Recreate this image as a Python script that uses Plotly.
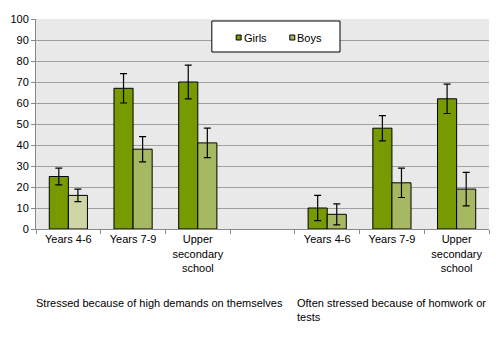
import plotly.graph_objects as go

# Category slots: two groups of school stages separated by an empty slot
tick_labels = ["Years 4-6", "Years 7-9", "Upper<br>secondary<br>school", "",
               "Years 4-6", "Years 7-9", "Upper<br>secondary<br>school"]
positions = [0, 1, 2, 3, 4, 5, 6]

girls = [25, 67, 70, None, 10, 48, 62]
girls_err = [4, 7, 8, None, 6, 6, 7]
boys = [16, 38, 41, None, 7, 22, 19]
boys_err = [3, 6, 7, None, 5, 7, 8]

series_names = ["Girls", "Boys"]
group_titles = ["Stressed because of high demands on themselves",
                "Often stressed because of homwork or<br>tests"]

GIRLS_COLOR = "#779a00"
BOYS_COLOR = "#a6b862"
BOYS_LIGHT = "#cfd6a6"
FONT = "Liberation Sans, Arial, sans-serif"

# plot area in pixels
W, H = 499, 341
L, R, T, B = 33, 10, 19, 112
pw, ph = W - L - R, H - T - B


def px_x(x):
    return (x - L) / pw


def px_y(y):
    return (H - B - y) / ph


err_style = dict(type="data", color="black", thickness=1.2, width=3.5, visible=True)

fig = go.Figure()
fig.add_trace(go.Bar(
    x=positions, y=girls, name=series_names[0], showlegend=False,
    marker=dict(color=GIRLS_COLOR, line=dict(color="black", width=1)),
    error_y=dict(array=girls_err, **err_style),
))
fig.add_trace(go.Bar(
    x=positions, y=boys, name=series_names[1], showlegend=False,
    marker=dict(color=[BOYS_LIGHT] + [BOYS_COLOR] * 6,
                line=dict(color="black", width=1)),
    error_y=dict(array=boys_err, **err_style),
))

# legend frame with small square swatches
shapes = [dict(
    type="rect", xref="paper", yref="paper",
    x0=px_x(210), x1=px_x(339), y0=px_y(52), y1=px_y(21),
    fillcolor="white", line=dict(color="black", width=1), layer="above",
)]
for sx, color in zip([234.5, 288.5], [GIRLS_COLOR, BOYS_COLOR]):
    shapes.append(dict(
        type="rect", xref="paper", yref="paper",
        x0=px_x(sx), x1=px_x(sx + 5), y0=px_y(40), y1=px_y(35),
        fillcolor=color, line=dict(color="black", width=1), layer="above",
    ))

fig.update_layout(
    width=W, height=H,
    margin=dict(l=L, r=R, t=T, b=B),
    paper_bgcolor="white",
    plot_bgcolor="#e9e9e9",
    barmode="group",
    bargap=0.41,
    bargroupgap=0,
    font=dict(family=FONT, size=11, color="black"),
    showlegend=False,
    shapes=shapes,
)

for tx, name in zip([240, 294], series_names):
    fig.add_annotation(
        xref="paper", yref="paper", x=px_x(tx), y=px_y(37.5),
        xanchor="left", yanchor="middle", text=name, showarrow=False,
        font=dict(family=FONT, size=11),
    )

fig.update_xaxes(
    range=[-0.5, 6.5],
    tickmode="array", tickvals=positions, ticktext=tick_labels,
    ticks="", showgrid=False, zeroline=False,
    showline=True, linecolor="#888888", linewidth=1,
    tickfont=dict(family=FONT, size=11),
    minor=dict(tickmode="linear", tick0=-0.5, dtick=1, ticks="outside",
               ticklen=4, tickcolor="#888888", showgrid=False),
)
fig.update_yaxes(
    range=[0, 100], dtick=10, tick0=0,
    showgrid=True, gridcolor="#a0a0a0", gridwidth=1,
    zeroline=False,
    showline=True, linecolor="#888888", linewidth=1,
    ticks="outside", ticklen=4, tickcolor="#888888",
    tickfont=dict(family=FONT, size=11),
)

for x_px, text in zip([31, 294], group_titles):
    fig.add_annotation(
        xref="paper", yref="paper", x=px_x(x_px), y=px_y(295),
        xanchor="left", yanchor="top", align="left",
        text=text, showarrow=False, font=dict(family=FONT, size=11),
    )

fig.write_html("out.html")
